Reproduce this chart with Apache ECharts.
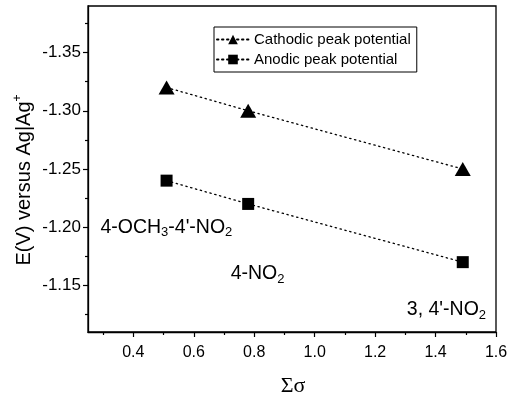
<!DOCTYPE html>
<html>
<head>
<meta charset="utf-8">
<script src="https://cdn.jsdelivr.net/npm/echarts@6/dist/echarts.min.js"></script>
<style>html,body{margin:0;padding:0;background:#fff}#c{width:515px;height:397px}</style>
</head>
<body>
<div id="c"></div>
<script>
// ---- data ----
const sigmaValues = [0.51, 0.78, 1.49];
const cathodic = [-1.32, -1.30, -1.25];
const anodic = [-1.24, -1.22, -1.17];
const seriesNames = ['Cathodic peak potential', 'Anodic peak potential'];
const xTickLabels = [0.4, 0.6, 0.8, 1.0, 1.2, 1.4, 1.6];
const xMinorTicks = [0.3, 0.5, 0.7, 0.9, 1.1, 1.3, 1.5];
const yTickLabels = [-1.35, -1.30, -1.25, -1.20, -1.15];
const yMinorTicks = [-1.375, -1.325, -1.275, -1.225, -1.175, -1.125];
const annotationText = [
  '{n|4-OCH}{s|3}{n|-4\'-NO}{s|2}',
  '{n|4-NO}{s|2}',
  '{n|3, 4\'-NO}{s|2}'
];
const annotationX = [0.291, 0.722, 1.305];
const annotationY = [-1.200, -1.160, -1.129];

const FONT = 'Liberation Sans';
const chart = echarts.init(document.getElementById('c'), null, {renderer: 'canvas'});
const gridBox = {left: 88, right: 19, top: 6, bottom: 65};
const xRange = {min: 0.25, max: 1.6};
const yRange = {min: -1.39, max: -1.11};

function xAxisCfg(major) {
  return {
    type: 'value', position: 'bottom', min: xRange.min, max: xRange.max,
    splitLine: {show: false},
    axisLine: {show: major, onZero: false, lineStyle: {color: '#000', width: 1.3}},
    axisTick: {show: true, inside: false, length: major ? 5 : 3, customValues: major ? xTickLabels : xMinorTicks, lineStyle: {color: '#000', width: 1.2}},
    axisLabel: {show: major, customValues: xTickLabels, formatter: v => v.toFixed(1), color: '#000', fontFamily: FONT, fontSize: 16, margin: 13}
  };
}
function yAxisCfg(major) {
  return {
    type: 'value', position: 'left', inverse: true, min: yRange.min, max: yRange.max,
    splitLine: {show: false},
    axisLine: {show: major, onZero: false, lineStyle: {color: '#000', width: 1.3}},
    axisTick: {show: true, inside: false, length: major ? 5 : 3, customValues: major ? yTickLabels : yMinorTicks, lineStyle: {color: '#000', width: 1.2}},
    axisLabel: {show: major, customValues: yTickLabels, formatter: v => v.toFixed(2), color: '#000', fontFamily: FONT, fontSize: 17, margin: 7}
  };
}

const lineStyle = {color: '#000', width: 1.3, type: [1.4, 3.6], cap: 'round'};

chart.setOption({
  animation: false,
  backgroundColor: '#fff',
  grid: Object.assign({show: true, borderColor: '#000', borderWidth: 1.3, backgroundColor: 'transparent'}, gridBox),
  xAxis: [xAxisCfg(true), xAxisCfg(false)],
  yAxis: [yAxisCfg(true), yAxisCfg(false)],
  legend: {
    data: seriesNames,
    orient: 'vertical', left: 214, top: 27,
    borderColor: '#000', borderWidth: 1, borderRadius: 0,
    padding: [5, 6, 5, 2], itemGap: 5, itemWidth: 32, itemHeight: 12,
    textStyle: {color: '#000', fontFamily: FONT, fontSize: 15}
  },
  graphic: [
    {type: 'text', x: 24, y: 180, rotation: Math.PI / 2,
     style: {text: '{a|E(V) versus Ag|Ag}{s|+}', align: 'center', verticalAlign: 'middle',
       rich: {a: {fontFamily: FONT, fontSize: 20, fill: '#000', color: '#000'},
              s: {fontFamily: FONT, fontSize: 12, padding: [0, 0, 12, 0], fill: '#000', color: '#000'}}}},
    {type: 'text', x: 293, y: 386,
     style: {text: 'Σσ', align: 'center', verticalAlign: 'middle', font: '22px "Liberation Serif"', fill: '#000'}}
  ],
  series: [
    {name: seriesNames[0], type: 'line', data: sigmaValues.map((x, i) => [x, cathodic[i]]),
     symbol: 'triangle', symbolSize: [16, 14], itemStyle: {color: '#000'}, lineStyle: lineStyle},
    {name: seriesNames[1], type: 'line', data: sigmaValues.map((x, i) => [x, anodic[i]]),
     symbol: 'rect', symbolSize: 12, itemStyle: {color: '#000'}, lineStyle: lineStyle},
    {name: 'labels', type: 'scatter', symbolSize: 0, silent: true,
     itemStyle: {opacity: 1, color: '#000'},
     data: annotationX.map((x, i) => ({value: [x, annotationY[i]], label: {formatter: annotationText[i]}})),
     label: {show: true, position: 'right', distance: 0, color: '#000', opacity: 1,
       rich: {n: {fontFamily: FONT, fontSize: 19.5, color: '#000', lineHeight: 24},
              s: {fontFamily: FONT, fontSize: 13, color: '#000', lineHeight: 24, padding: [11, 0, 0, 0]}}}}
  ]
});
</script>
</body>
</html>
